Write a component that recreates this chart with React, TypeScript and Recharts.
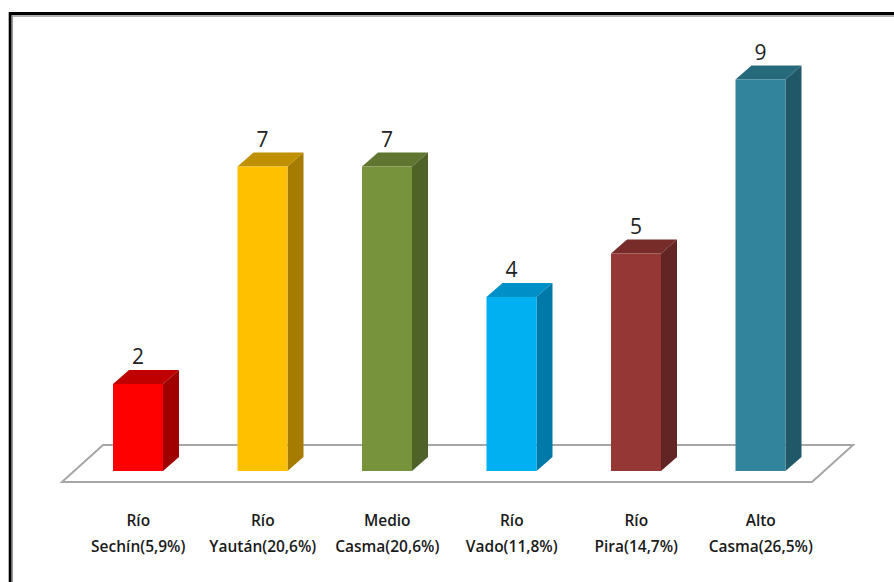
import React from "react";
import { BarChart, Bar, XAxis, YAxis, LabelList, Cell } from "recharts";

const categories = [
  ["Río", "Sechín(5,9%)"],
  ["Río", "Yaután(20,6%)"],
  ["Medio", "Casma(20,6%)"],
  ["Río", "Vado(11,8%)"],
  ["Río", "Pira(14,7%)"],
  ["Alto", "Casma(26,5%)"],
];
const counts = [2, 7, 7, 4, 5, 9];

// front / top / side shades per bar
const frontColors = ["#FF0000", "#FFC000", "#77933C", "#00B0F0", "#953735", "#31849B"];
const topColors = ["#C00000", "#BF9000", "#5F7530", "#0090C8", "#772C2A", "#276A7C"];
const sideColors = ["#A00000", "#A67C00", "#4F6228", "#0078A8", "#632523", "#215868"];

const data = categories.map((c, i) => ({ name: c.join("\n"), value: counts[i], idx: i }));

const DX = 16;
const DY = 14;

const Box3D = (props: any) => {
  const { x, y, width, height, payload } = props;
  const i = payload.idx;
  const r = x + width;
  const b = y + height;
  return (
    <g>
      <polygon
        points={`${x},${y} ${x + DX},${y - DY} ${r + DX},${y - DY} ${r},${y}`}
        fill={topColors[i]}
      />
      <polygon
        points={`${r},${y} ${r + DX},${y - DY} ${r + DX},${b - DY} ${r},${b}`}
        fill={sideColors[i]}
      />
      <rect x={x} y={y} width={width} height={height} fill={frontColors[i]} />
    </g>
  );
};

const CategoryTick = ({ x, y, payload }: any) => {
  const lines = String(payload.value).split("\n");
  return (
    <text
      x={x}
      y={y}
      textAnchor="middle"
      fill="#1a1a1a"
      fontSize={15.5}
      fontWeight={600}
      fontFamily="'Open Sans', sans-serif"
    >
      {lines.map((l, k) => (
        <tspan key={k} x={x} y={y + 55 + k * 26}>
          {l}
        </tspan>
      ))}
    </text>
  );
};

const ValueLabel = ({ x, y, width, value }: any) => (
  <text
    x={x + width / 2}
    y={y - 20}
    textAnchor="middle"
    fill="#222"
    fontSize={21}
    fontFamily="'Open Sans', sans-serif"
  >
    {value}
  </text>
);

export default function App() {
  return (
    <div style={{ position: "absolute", left: 0, top: 0, width: 894, height: 582, background: "#fff", overflow: "hidden" }}>
      <svg width={894} height={582} style={{ position: "absolute", left: 0, top: 0 }}>
        {/* outer frame */}
        <line x1={9} y1={13.5} x2={894} y2={13.5} stroke="#000" strokeWidth={3} />
        <line x1={10.2} y1={12} x2={10.2} y2={582} stroke="#000" strokeWidth={3} />
        <line x1={12} y1={16} x2={894} y2={16} stroke="#999" strokeWidth={1.5} />
        <line x1={12.3} y1={15} x2={12.3} y2={582} stroke="#999" strokeWidth={1.5} />
        {/* floor */}
        <polygon
          points="62,482 103,445 853,445 812,482"
          fill="#fff"
          stroke="#A6A6A6"
          strokeWidth={2}
        />
      </svg>
      <div style={{ position: "absolute", left: 0, top: 0 }}>
        <BarChart
          width={894}
          height={582}
          data={data}
          margin={{ top: 36, right: 71, bottom: 0, left: 76 }}
          barCategoryGap={0}
        >
          <YAxis hide domain={[0, 10]} type="number" allowDataOverflow />
          <XAxis
            dataKey="name"
            height={111}
            axisLine={false}
            tickLine={false}
            tickSize={0}
            tickMargin={0}
            interval={0}
            tick={<CategoryTick />}
          />
          <Bar dataKey="value" barSize={50} shape={<Box3D />} isAnimationActive={false}>
            {data.map((d) => (
              <Cell key={d.idx} fill={frontColors[d.idx]} />
            ))}
            <LabelList dataKey="value" content={<ValueLabel />} />
          </Bar>
        </BarChart>
      </div>
    </div>
  );
}
